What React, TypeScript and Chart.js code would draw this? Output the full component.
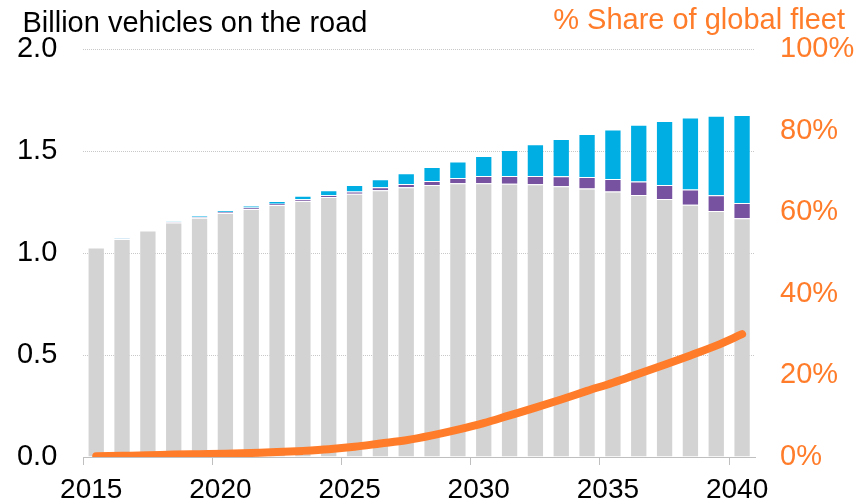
import React, { useEffect, useRef } from "react";
import { Chart, registerables } from "chart.js";

Chart.register(...registerables);

const years: string[] = [
  "2015", "2016", "2017", "2018", "2019", "2020", "2021", "2022", "2023", "2024",
  "2025", "2026", "2027", "2028", "2029", "2030", "2031", "2032", "2033", "2034",
  "2035", "2036", "2037", "2038", "2039", "2040",
];

// Billion vehicles
const iceVehicles: number[] = [
  1.027, 1.069, 1.110, 1.150, 1.173, 1.196, 1.216, 1.235, 1.255, 1.275,
  1.291, 1.307, 1.322, 1.333, 1.342, 1.342, 1.340, 1.337, 1.327, 1.316,
  1.301, 1.284, 1.265, 1.237, 1.206, 1.170,
];
const phevVehicles: number[] = [
  0.001, 0.001, 0.001, 0.002, 0.003, 0.005, 0.007, 0.007, 0.008, 0.008,
  0.011, 0.015, 0.016, 0.020, 0.026, 0.035, 0.037, 0.040, 0.049, 0.057,
  0.062, 0.066, 0.068, 0.074, 0.077, 0.075,
];
const bevVehicles: number[] = [
  0.001, 0.002, 0.002, 0.002, 0.005, 0.008, 0.009, 0.013, 0.018, 0.024,
  0.031, 0.039, 0.053, 0.069, 0.080, 0.099, 0.128, 0.156, 0.183, 0.210,
  0.243, 0.279, 0.314, 0.353, 0.390, 0.431,
];
// % share of global fleet
const evShare: number[] = [
  0.2, 0.3, 0.4, 0.6, 0.7, 0.8, 1.0, 1.2, 1.5, 1.9,
  2.5, 3.3, 4.1, 5.3, 6.7, 8.3, 10.2, 12.1, 14.1, 16.2,
  18.2, 20.4, 22.6, 24.9, 27.3, 30.1,
];

const leftTitle = "Billion vehicles on the road";
const rightTitle = "% Share of global fleet";

const FONT = '"Liberation Sans", Arial, sans-serif';
const ORANGE = "#FF7C2A";
const GRAY = "#D3D3D3";
const PURPLE = "#7752A1";
const BLUE = "#00AEE4";

const titlePlugin = {
  id: "titles",
  afterDraw(chart: any) {
    const ctx = chart.ctx;
    ctx.save();
    ctx.font = `29px ${FONT}`;
    ctx.textBaseline = "alphabetic";
    ctx.fillStyle = "#000";
    ctx.textAlign = "left";
    ctx.fillText(leftTitle, 22.5, 31.5);
    ctx.fillStyle = ORANGE;
    ctx.textAlign = "right";
    ctx.fillText(rightTitle, 845, 28.5);
    ctx.restore();
  },
};

export default function App() {
  const ref = useRef<HTMLCanvasElement | null>(null);
  useEffect(() => {
    if (!ref.current) return;
    const chart = new Chart(ref.current, {
      data: {
        labels: years,
        datasets: [
          {
            type: "line",
            label: "Share",
            data: evShare,
            yAxisID: "y1",
            borderColor: ORANGE,
            borderWidth: 8,
            borderCapStyle: "round",
            pointRadius: 0,
            cubicInterpolationMode: "monotone",
            order: 0,
          } as any,
          {
            type: "bar",
            label: "ICE",
            data: iceVehicles,
            backgroundColor: GRAY,
            borderColor: "rgba(255,255,255,0.35)",
            borderWidth: 1,
            stack: "s",
            order: 1,
          },
          {
            type: "bar",
            label: "PHEV",
            data: phevVehicles,
            backgroundColor: PURPLE,
            borderColor: "rgba(255,255,255,0.25)",
            borderWidth: 1,
            stack: "s",
            order: 1,
          },
          {
            type: "bar",
            label: "BEV",
            data: bevVehicles,
            backgroundColor: BLUE,
            borderColor: "rgba(255,255,255,0.25)",
            borderWidth: 1,
            stack: "s",
            order: 1,
          },
        ],
      },
      options: {
        responsive: false,
        animation: false,
        layout: { padding: { top: 49, left: 0, right: 0, bottom: 0 } },
        plugins: { legend: { display: false }, tooltip: { enabled: false } },
        datasets: { bar: { barPercentage: 0.67, categoryPercentage: 1 } },
        scales: {
          x: {
            type: "category",
            stacked: true,
            offset: true,
            grid: {
              display: true,
              offset: true,
              drawOnChartArea: false,
              drawTicks: true,
              tickLength: 8,
              color: (c: any) => (c.index % 5 === 0 && c.index < years.length ? "#BFBFBF" : "rgba(0,0,0,0)"),
            },
            border: { display: true, color: "#BFBFBF", width: 1 },
            ticks: {
              autoSkip: false,
              maxRotation: 0,
              padding: 8,
              labelOffset: -5,
              color: "#000",
              font: { family: FONT, size: 28 },
              callback: (_v: any, i: number) => (i % 5 === 0 ? years[i] : ""),
            },
            afterFit: (s: any) => { s.height = 47; },
          },
          y: {
            type: "linear",
            position: "left",
            stacked: true,
            min: 0,
            max: 2,
            ticks: {
              stepSize: 0.5,
              padding: 26,
              color: "#000",
              font: { family: FONT, size: 29 },
              callback: (v: any) => Number(v).toFixed(1),
            },
            grid: { color: "#C8C8C8", lineWidth: 1, drawTicks: false },
            border: { display: false, dash: [1, 1] },
            afterFit: (s: any) => { s.width = 83.3; },
          },
          y1: {
            type: "linear",
            position: "right",
            min: 0,
            max: 100,
            ticks: {
              stepSize: 20,
              padding: 25,
              color: ORANGE,
              font: { family: FONT, size: 29 },
              callback: (v: any) => `${v}%`,
            },
            grid: { drawOnChartArea: false, drawTicks: false },
            border: { display: false },
            afterFit: (s: any) => { s.width = 102; },
          },
        },
      },
      plugins: [titlePlugin],
    } as any);
    return () => chart.destroy();
  }, []);
  return (
    <div style={{ position: "absolute", left: 0, top: 0, width: 857, height: 504, background: "#fff" }}>
      <canvas ref={ref} width={857} height={504} style={{ display: "block" }} />
    </div>
  );
}
